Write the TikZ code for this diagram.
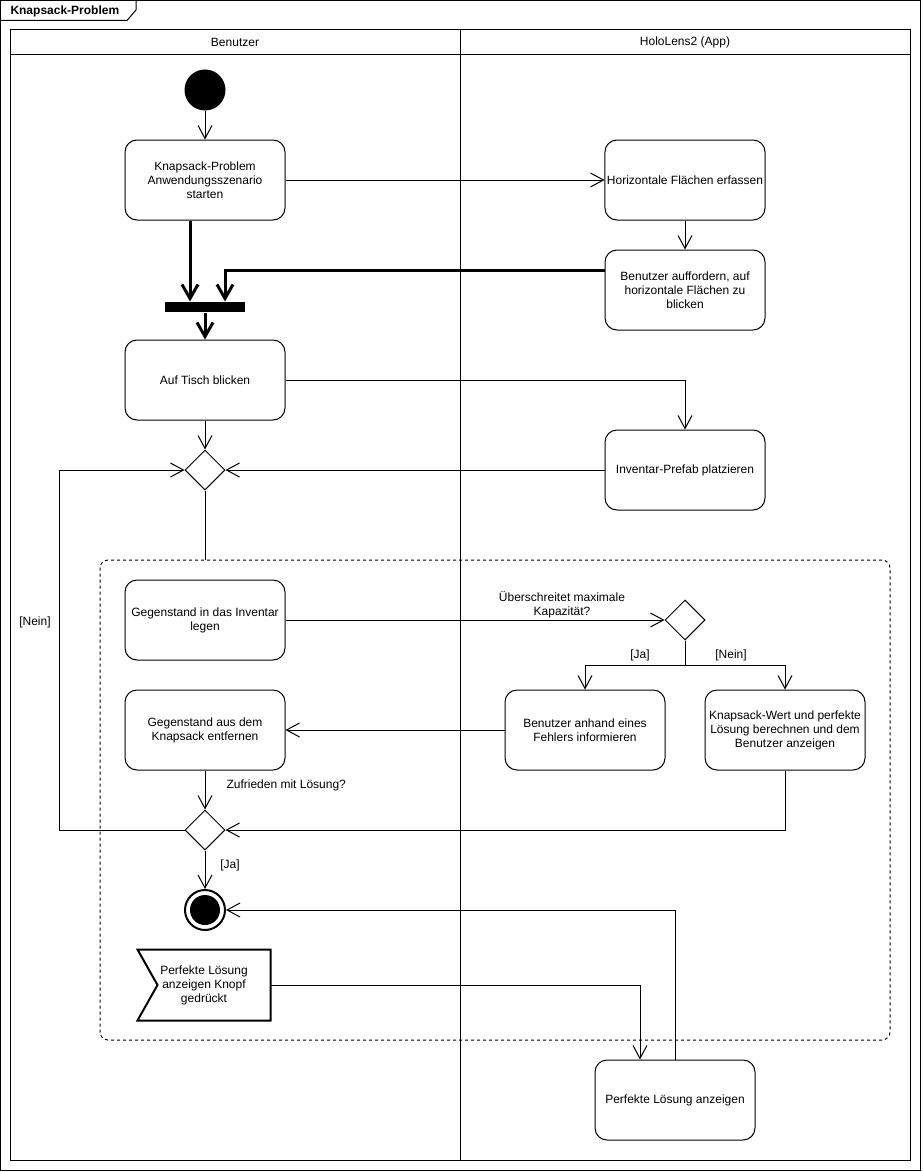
\documentclass[tikz,border=0pt]{standalone}
\usepackage{fontspec}
\setmainfont{Liberation Sans}
\usetikzlibrary{arrows.meta,shapes.geometric,calc}

\begin{document}
\begin{tikzpicture}[
    x={(1pt,0pt)}, y={(0pt,-1pt)},
    font=\fontsize{12pt}{14pt}\selectfont,
    line width=1pt, line join=miter,
    act/.style={draw, rounded corners=12pt, minimum width=160pt, minimum height=80pt,
                align=center, inner sep=2pt},
    dec/.style={draw, diamond, minimum width=40pt, minimum height=40pt, inner sep=0pt},
    flow/.style={-{Straight Barb[length=13pt,width=14pt]}},
    boldflow/.style={line width=3pt, -{Straight Barb[length=14pt,width=16pt]}},
    guard/.style={inner sep=0pt, align=center},
  ]
  \useasboundingbox (0,0) rectangle (922,1172);

  % frame with its name tab
  \draw (0.5,0.5) rectangle (920.5,1170.5);
  \draw (0.5,20.5) -- (127,20.5) -- (136,10) -- (136,0.5);
  \node[anchor=west, inner sep=0pt, font=\fontsize{12pt}{14pt}\selectfont\bfseries]
    (title) at (10,11) {Knapsack-Problem};

  % swimlanes
  \draw (10,30) rectangle (910,1160);
  \draw (10,55) -- (910,55);
  \draw (460,30) -- (460,1160);
  \node (laneU) at (235,42) {Benutzer};
  \node (laneH) at (685,42) {HoloLens2 (App)};

  % interruptible region
  \node[draw, dash pattern=on 3pt off 3pt, rounded corners=8pt,
        minimum width=790pt, minimum height=480pt] (region) at (495,800) {};

  % nodes
  \node[circle, fill=black, minimum size=41pt, inner sep=0pt] (start) at (205,90) {};
  \node[act] (b1) at (205,180) {Knapsack-Problem\\Anwendungsszenario\\starten};
  \node[act] (b2) at (685,180) {Horizontale Flächen erfassen};
  \node[act] (b3) at (685,290) {Benutzer auffordern, auf\\horizontale Flächen zu\\blicken};
  \node[fill=black, minimum width=80pt, minimum height=10pt, inner sep=0pt] (fork) at (205,307) {};
  \node[act] (b4) at (205,380) {Auf Tisch blicken};
  \node[act] (b5) at (685,470) {Inventar-Prefab platzieren};
  \node[dec] (d1) at (205,470) {};
  \node[act] (g1) at (205,620) {Gegenstand in das Inventar\\legen};
  \node[dec] (d3) at (685,620) {};
  \node[act] (err) at (585,730) {Benutzer anhand eines\\Fehlers informieren};
  \node[act] (kw) at (785,730) {Knapsack-Wert und perfekte\\Lösung berechnen und dem\\Benutzer anzeigen};
  \node[act] (g2) at (205,730) {Gegenstand aus dem\\Knapsack entfernen};
  \node[dec] (d2) at (205,830) {};
  \node[circle, draw, line width=2pt, minimum size=40pt, inner sep=0pt] (final) at (205,910) {};
  \fill (final.center) circle[radius=15pt];
  \node[minimum width=132pt, minimum height=70pt, inner sep=0pt, align=center]
    (ev) at (204,985) {Perfekte Lösung\\anzeigen Knopf\\gedrückt};
  \draw[line width=2pt] (ev.north west) -- (ev.north east) -- (ev.south east)
    -- (ev.south west) -- ([xshift=20pt]ev.west) -- cycle;
  \node[act] (pl) at (675,1100) {Perfekte Lösung anzeigen};

  % control flows
  \draw[flow] (start) -- (b1);
  \draw[flow] (b1) -- (b2);
  \draw[flow] (b2) -- (b3);
  \draw[boldflow] ([xshift=-15pt]b1.south) -- ([xshift=-15pt]fork.north);
  \draw[boldflow] ([yshift=20pt]b3.west) -| ([xshift=20pt]fork.north);
  \draw[boldflow] (fork.south) -- (b4.north);
  \draw[flow] (b4.east) -| (b5.north);
  \draw[flow] (b4.south) -- (d1.north);
  \draw[flow] (b5.west) -- (d1.east);
  \draw (d1.south) -- (d1.south |- region.north);

  \draw[flow] (g1.east) -- (d3.west);
  \node[guard] (lcap) at (562,605) {Überschreitet maximale\\Kapazität?};
  \draw[flow] (d3.south) -- ++(0,25) -| (err.north);
  \draw[flow] (d3.south) -- ++(0,25) -| (kw.north);
  \node[guard] (lja1) at (640,655) {[Ja]};
  \node[guard] (lnein1) at (731,655) {[Nein]};
  \draw[flow] (err.west) -- (g2.east);

  \draw[flow] (g2.south) -- (d2.north);
  \node[guard, anchor=west] (lzuf) at (226,785) {Zufrieden mit Lösung?};
  \draw[flow] (kw.south) |- (d2.east);
  \draw[flow] (d2.west) -- ++(-125,0) |- (d1.west);
  \node[guard] (lnein2) at (35,622) {[Nein]};
  \draw[flow] (d2.south) -- (final.north);
  \node[guard] (lja2) at (230,865) {[Ja]};

  \draw[flow] (ev.east) -| ([xshift=-35pt]pl.north);
  \draw[flow] (pl.north) |- (final.east);
\end{tikzpicture}
\end{document}
